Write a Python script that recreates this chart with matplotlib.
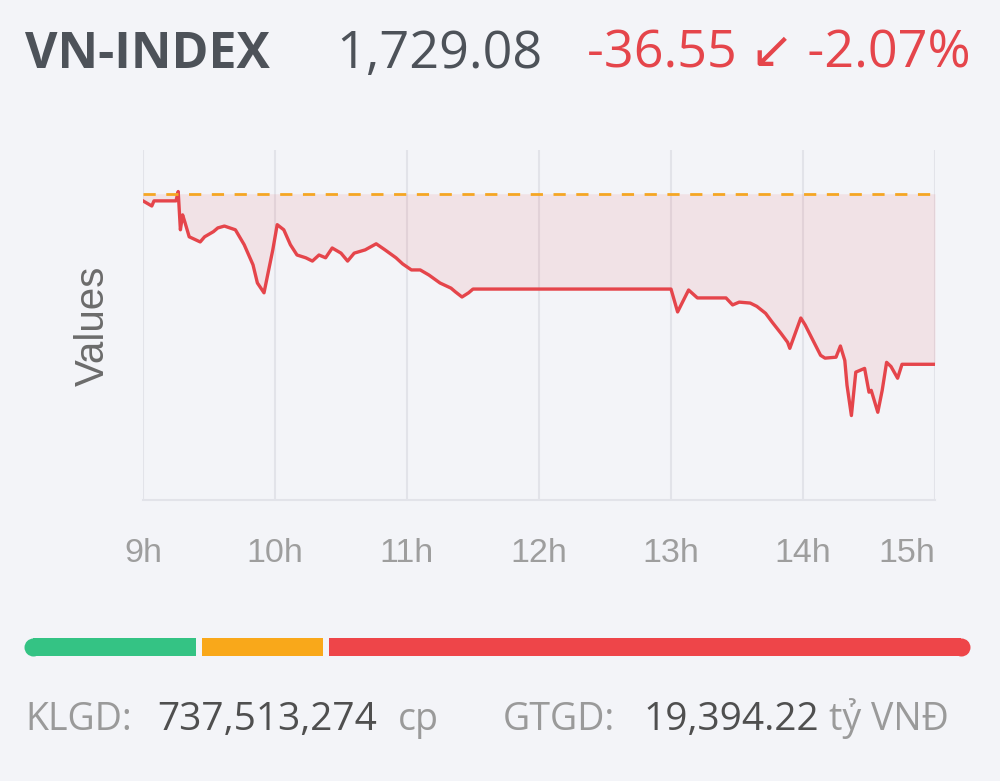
import matplotlib
matplotlib.use("Agg")
import matplotlib.pyplot as plt
import numpy as np

# intraday VN-INDEX points (time, index level)
times = [
    "09:00", "09:04", "09:05", "09:15", "09:16", "09:17", "09:18", "09:19", "09:21", "09:26",
    "09:28", "09:32", "09:34", "09:37", "09:42", "09:46", "09:50", "09:52", "09:55", "09:59",
    "10:01", "10:04", "10:07", "10:10", "10:14", "10:17", "10:20", "10:23", "10:26", "10:30",
    "10:33", "10:36", "10:41", "10:46", "10:50", "10:55", "10:58", "11:02", "11:06", "11:10",
    "11:15", "11:20", "11:22", "11:25", "11:28", "11:30", "13:00", "13:03", "13:08", "13:12",
    "13:18", "13:25", "13:28", "13:31", "13:36", "13:39", "13:43", "13:46", "13:50", "13:53",
    "13:54", "13:57", "13:59", "14:01", "14:04", "14:08", "14:10", "14:15", "14:17", "14:19",
    "14:20", "14:22", "14:24", "14:26", "14:28", "14:30", "14:31", "14:34", "14:36", "14:38",
    "14:40", "14:43", "14:45", "15:00",
]
values = [
    1764.1, 1763.0, 1764.1, 1764.1, 1766.1, 1757.9, 1761.1, 1759.6, 1756.4, 1755.3,
    1756.4, 1757.5, 1758.3, 1758.7, 1757.9, 1754.7, 1750.4, 1746.5, 1744.4, 1753.6,
    1759.0, 1757.9, 1754.7, 1752.5, 1751.9, 1751.2, 1752.5, 1751.9, 1754.0, 1752.9,
    1751.2, 1752.9, 1753.6, 1754.9, 1753.6, 1751.9, 1750.6, 1749.3, 1749.3, 1748.2,
    1746.5, 1745.4, 1744.6, 1743.5, 1744.4, 1745.2, 1745.2, 1740.3, 1745.0, 1743.3,
    1743.3, 1743.3, 1741.8, 1742.4, 1742.2, 1741.5, 1740.0, 1738.1, 1735.7, 1733.8,
    1732.5, 1736.4, 1739.0, 1737.5, 1734.7, 1731.0, 1730.4, 1730.6, 1733.0, 1729.9,
    1724.6, 1718.1, 1727.4, 1727.8, 1728.2, 1723.1, 1723.5, 1718.8, 1723.5, 1729.5,
    1728.6, 1726.1, 1729.08, 1729.08,
]
prev_close = 1765.63

hour_ticks = [9, 10, 11, 12, 13, 14, 15]
hour_labels = ["9h", "10h", "11h", "12h", "13h", "14h", "15h"]

index_name = "VN-INDEX"
last_price = "1,729.08"
change_text = "-36.55 \u2199 -2.07%"

# market breadth bar: advancing / unchanged / declining shares
breadth_shares = [0.182, 0.137, 0.681]
breadth_colors = ["#34c384", "#f9a81a", "#ee4549"]

stat_items = [
    ("KLGD:", "737,513,274", "cp"),
    ("GTGD:", "19,394.22", "t\u1ef7 VN\u0110"),
]

BG = "#f3f4f8"
RED = "#e5454b"
TXT_FAM = ["Open Sans", "DejaVu Sans"]
AX_FAM = ["Liberation Sans", "DejaVu Sans"]

hours = np.array([int(t[:2]) + int(t[3:]) / 60.0 for t in times])
vals = np.array(values)

fig = plt.figure(figsize=(10, 7.81), dpi=100, facecolor=BG)

# header
fig.text(0.025, 0.913, index_name, fontsize=36, fontweight="bold", color="#4d5259",
         family=TXT_FAM, va="baseline", ha="left")
fig.text(0.336, 0.913, last_price, fontsize=37.5, color="#4d5259",
         family=TXT_FAM, va="baseline", ha="left")
fig.text(0.587, 0.913, change_text, fontsize=37.5, color=RED,
         family=TXT_FAM, va="baseline", ha="left")

# main chart
ax = fig.add_axes([0.143, 1 - 500 / 781, 0.792, 350 / 781])
ax.set_facecolor(BG)
ax.fill_between(hours, vals, prev_close, color=RED, alpha=0.1, linewidth=0)
ax.plot(hours, vals, color=RED, lw=2.4, solid_joinstyle="round")
ref, = ax.plot([9, 15], [prev_close, prev_close], color="#f5a623", lw=2.0)
ref.set_dashes([4.4, 3.8])

ax.set_xlim(9, 15)
ax.set_ylim(1700, 1775)
for h in hour_ticks:
    ax.axvline(h, color="#e2e3e9", lw=1.5, zorder=0)
for side in ("top", "right", "left"):
    ax.spines[side].set_visible(False)
ax.spines["bottom"].set_color("#e2e3e9")
ax.spines["bottom"].set_linewidth(1.5)
ax.set_yticks([])
ax.set_xticks(hour_ticks)
ax.set_xticklabels(hour_labels, fontsize=24.5, color="#9e9e9e", family=AX_FAM)
ax.get_xticklabels()[-1].set_ha("right")
ax.tick_params(axis="x", length=0, pad=27)

fig.text(0.093, 1 - 326 / 781, "Values", rotation=90, fontsize=29, color="#6b6b6b",
         family=AX_FAM, ha="center", va="center")

# breadth bar
bx = fig.add_axes([0.033, 1 - 656 / 781, 0.928, 18 / 781])
bx.set_xlim(0, 1)
bx.set_ylim(-0.5, 0.5)
bx.axis("off")
gap = 0.0065
left = 0.0
for i, (share, col) in enumerate(zip(breadth_shares, breadth_colors)):
    w = share - (gap if i < len(breadth_shares) - 1 else 0)
    bx.barh(0, w, left=left, height=1.0, color=col, linewidth=0)
    left += share
bx.scatter([0], [0], s=168, color=breadth_colors[0], marker="o", linewidths=0, clip_on=False)
bx.scatter([1], [0], s=168, color=breadth_colors[-1], marker="o", linewidths=0, clip_on=False)

# stats line
stat_x = [(0.025, 0.157, 0.398), (0.503, 0.643, 0.829)]
for (lab, num, unit), (x1, x2, x3) in zip(stat_items, stat_x):
    fig.text(x1, 0.065, lab, fontsize=27, color="#9a9a9a", family=TXT_FAM, va="baseline")
    fig.text(x2, 0.065, num, fontsize=28, color="#4f4f4f", family=TXT_FAM, va="baseline")
    fig.text(x3, 0.065, unit, fontsize=27, color="#9a9a9a", family=TXT_FAM, va="baseline")

fig.savefig("out.png", dpi=100, facecolor=BG)
